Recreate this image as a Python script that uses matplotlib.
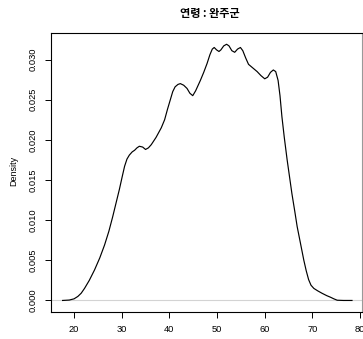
import matplotlib.pyplot as plt

# density curve (age vs density)
age = [17.6, 19.0, 20.0, 20.8, 21.5, 22.2, 23.2, 24.3, 25.4, 26.4, 27.3, 28.1,
       28.8, 29.5, 30.1, 30.6, 31.1, 31.6, 32.2, 32.7, 33.2, 33.7, 34.4, 35.0,
       35.6, 36.2, 37.2, 38.3, 39.0, 39.6, 40.2, 40.7, 41.2, 41.8, 42.3, 43.0,
       43.7, 44.3, 44.9, 45.5, 46.5, 47.2, 47.9, 48.5, 49.0, 49.4, 49.9, 50.4,
       50.8, 51.4, 52.0, 52.5, 53.1, 53.7, 54.3, 54.9, 55.4, 56.0, 56.6, 57.4,
       58.4, 59.2, 60.0, 60.6, 61.2, 61.8, 62.3, 62.8, 63.2, 63.6, 64.1, 64.7,
       65.2, 65.7, 66.3, 66.8, 67.5, 68.2, 68.7, 69.2, 69.7, 70.3, 71.1, 72.0,
       73.0, 73.8, 74.5, 75.2, 76.5, 78.3]
density = [0.0, 0.00005, 0.0002, 0.0005, 0.0009, 0.0015, 0.0025, 0.0038, 0.0053,
           0.0069, 0.0086, 0.0104, 0.0121, 0.0138, 0.0154, 0.0167, 0.0176,
           0.0181, 0.0185, 0.0187, 0.0190, 0.0192, 0.0191, 0.0188, 0.0190,
           0.0194, 0.0203, 0.0215, 0.0225, 0.0238, 0.0250, 0.0260, 0.0266,
           0.0269, 0.0270, 0.0268, 0.0264, 0.0258, 0.0255, 0.0261, 0.0274,
           0.0284, 0.0295, 0.0306, 0.0313, 0.0315, 0.0312, 0.0310, 0.0312,
           0.0317, 0.0319, 0.0317, 0.0311, 0.0309, 0.0313, 0.0315, 0.0311,
           0.0302, 0.0294, 0.0290, 0.0285, 0.0280, 0.0276, 0.0278, 0.0284,
           0.0287, 0.0285, 0.0274, 0.0255, 0.0229, 0.0203, 0.0175, 0.0154,
           0.0133, 0.0111, 0.0092, 0.0071, 0.0050, 0.0037, 0.0026, 0.0019,
           0.0015, 0.0012, 0.0009, 0.0006, 0.0004, 0.0002, 0.00003, 0.0, 0.0]

xticks = [20, 30, 40, 50, 60, 70, 80]
yticks = [0.000, 0.005, 0.010, 0.015, 0.020, 0.025, 0.030]
title = "연령 : 완주군"

plt.rcParams['font.family'] = ['Liberation Sans', 'DejaVu Sans']

W, H = 363, 339
fig = plt.figure(figsize=(W / 100, H / 100), dpi=100)
ax = fig.add_axes([51 / W, (H - 311.7) / H, (362 - 51) / W, (311.7 - 32.7) / H])

ax.axhline(0, color='#d3d3d3', lw=0.8, zorder=1)
ax.plot(age, density, color='black', lw=0.85, zorder=2)

ax.set_xlim(15.17, 80.4)
ax.set_ylim(-0.0014, 0.03334)

ax.set_xticks(xticks)
ax.set_xticklabels([str(t) for t in xticks], fontsize=6.7)
ax.set_yticks(yticks)
ax.set_yticklabels(['%.3f' % t for t in yticks], fontsize=6.7, rotation=90, va='center')
ax.tick_params(length=4.5, width=0.7, pad=5, color='black')

for s in ax.spines.values():
    s.set_linewidth(0.8)
    s.set_color('black')
ax.spines['right'].set_color('#999999')

fig.text(14 / W, 1 - 171 / H, "Density", rotation=90, fontsize=6.5, ha='center', va='center')
fig.text(210 / W, 1 - 13 / H, title, fontsize=8, fontweight='bold', ha='center', va='center',
         family=['Noto Sans CJK KR', 'DejaVu Sans'])

fig.savefig('out.png', dpi=100)
